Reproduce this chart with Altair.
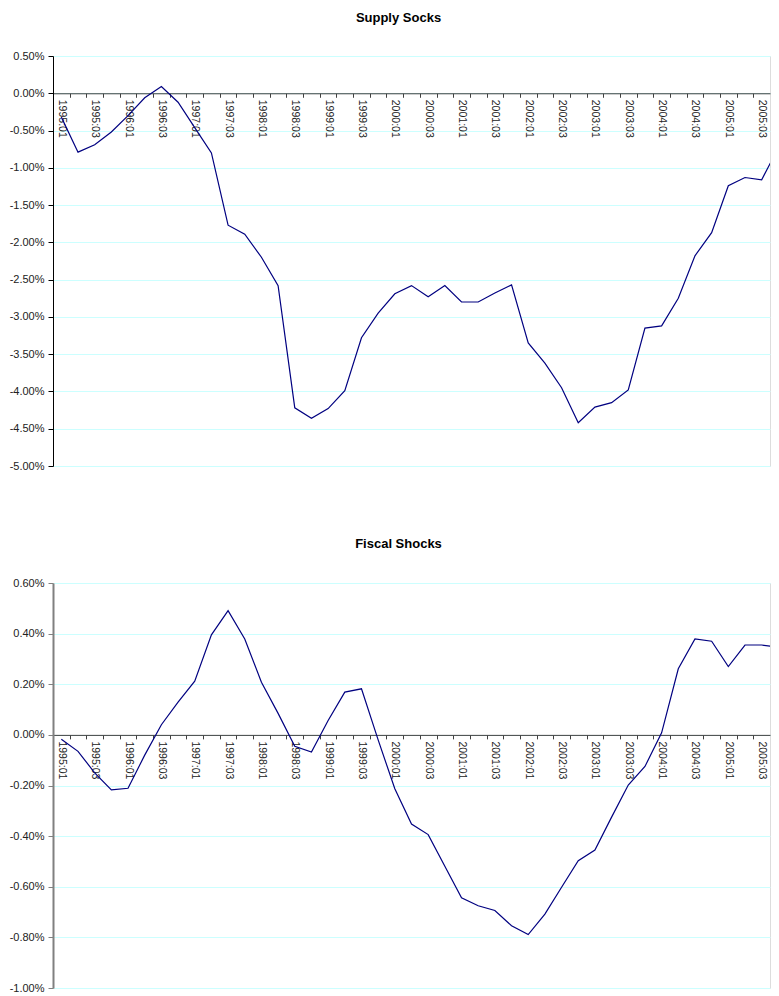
import altair as alt
import pandas as pd

# Quarterly categories 1995:01 .. 2005:04
quarters = [f"{y}:0{q}" for y in range(1995, 2006) for q in range(1, 5)]
# Only every other quarter is labelled on the axis (01 and 03)
shown_labels = [q if q.endswith(":01") or q.endswith(":03") else "" for q in quarters]

# Supply shocks, in percent
supply = [-0.32, -0.79, -0.69, -0.52, -0.30, -0.06, 0.09, -0.12, -0.46, -0.80,
          -1.77, -1.89, -2.20, -2.58, -4.22, -4.36, -4.23, -3.99, -3.28, -2.95,
          -2.69, -2.58, -2.73, -2.58, -2.80, -2.80, -2.68, -2.57, -3.35, -3.62,
          -3.95, -4.42, -4.21, -4.15, -3.98, -3.15, -3.12, -2.75, -2.18, -1.87,
          -1.24, -1.13, -1.16, -0.73]

# Fiscal shocks, in percent
fiscal = [-0.017, -0.065, -0.15, -0.217, -0.211, -0.08, 0.04, 0.129, 0.212, 0.395,
          0.491, 0.379, 0.208, 0.085, -0.045, -0.068, 0.057, 0.169, 0.182, -0.02,
          -0.213, -0.352, -0.394, -0.519, -0.644, -0.675, -0.694, -0.754, -0.789, -0.708,
          -0.602, -0.497, -0.455, -0.325, -0.198, -0.125, 0.008, 0.261, 0.379, 0.370,
          0.270, 0.355, 0.355, 0.347]

W = 717
XMAX = 42.5  # the original picture is cut off just before the last quarter
STEP = W / (XMAX + 0.5)
FONT = "Liberation Sans"

label_array = "[" + ",".join(f"'{s}'" for s in shown_labels) + "]"
x_label_expr = label_array + "[datum.value + 0.5]"
y_label_expr = "(datum.value < 0 ? '-' : '') + format(abs(datum.value), '.2%')"
# tick marks sit on the category boundaries inside the visible range
x_tick_values = [k - 0.5 for k in range(len(quarters) - 1)]


def panel(values, title, ymin, ymax, ystep, nticks, height, ycolor, ywidth, toff):
    df = pd.DataFrame({
        "idx": list(range(len(quarters))),
        "quarter": quarters,
        "value": [v / 100 for v in values],
    })
    zero_off = -height * (0 - ymin) / (ymax - ymin)
    yticks = [round(ymax - ystep * i, 6) for i in range(nticks)]
    return alt.Chart(
        df,
        title=alt.Title(title, fontSize=13, fontWeight="bold", font=FONT,
                        anchor="middle", dx=-13, offset=toff, color="black"),
    ).mark_line(color="#000080", strokeWidth=1.2, clip=True).encode(
        x=alt.X("idx:Q",
                scale=alt.Scale(domain=[-0.5, XMAX], nice=False, zero=False),
                axis=alt.Axis(values=x_tick_values,
                              labelExpr=x_label_expr, labelAngle=90,
                              labelAlign="left", labelBaseline="middle",
                              labelOffset=STEP / 2, labelOverlap=False,
                              labelFlush=False, labelBound=False,
                              offset=zero_off, grid=False, tickSize=4,
                              domainColor="#404040", tickColor="#404040",
                              labelFontSize=10.5, labelPadding=2,
                              labelColor="#222", labelFont=FONT, title=None)),
        y=alt.Y("value:Q",
                scale=alt.Scale(domain=[ymin, ymax], nice=False, zero=False),
                axis=alt.Axis(values=yticks, labelExpr=y_label_expr,
                              grid=True, gridColor="#ccffff", tickSize=5,
                              domainColor=ycolor, tickColor=ycolor,
                              domainWidth=ywidth,
                              labelFontSize=11, labelPadding=4,
                              labelColor="#222", labelFont=FONT, title=None)),
    ).properties(width=W, height=height)


top = panel(supply, "Supply Socks", -0.05, 0.005, 0.005, 12, 410, "black", 1, 25)
bottom = panel(fiscal, "Fiscal Shocks", -0.01, 0.006, 0.002, 9, 405, "#808080", 2, 26)

chart = alt.vconcat(top, bottom, spacing=65).properties(
    padding={"left": 0, "top": 3, "right": 0, "bottom": 0},
).configure_view(stroke=None).configure(font=FONT)

chart.save("out.html", embed_options={"renderer": "svg", "actions": False})
